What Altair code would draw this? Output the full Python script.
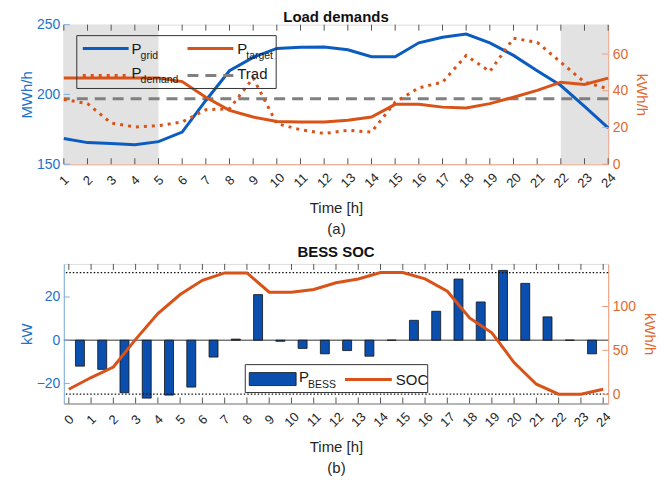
import altair as alt
import pandas as pd

FONT = "Liberation Sans"
BLUE = "#0b5cc0"
BAR_BLUE = "#0a4fae"
ORANGE = "#d95319"
BLUE_TXT = "#2072c8"
ORANGE_TXT = "#e06a30"
GRAY = "#808080"

# ---------------- data: (a) Load demands ----------------
hours_a = list(range(1, 25))
p_grid = [168.4, 165.5, 164.8, 164.0, 166.2, 173.0, 195.7, 217.0, 226.6, 233.0, 233.8, 234.0,
          232.0, 227.0, 227.0, 237.0, 241.0, 243.3, 237.0, 228.0, 217.0, 206.4, 191.4, 176.0]
p_target = [46.9, 46.9, 46.9, 46.9, 46.9, 45.0, 36.5, 29.3, 25.7, 23.3, 23.0, 23.0,
            23.9, 25.7, 32.6, 32.6, 31.1, 30.6, 33.0, 36.5, 40.2, 44.7, 43.4, 46.9]
p_demand = [35.3, 33.0, 22.4, 20.3, 21.0, 23.0, 29.7, 30.2, 47.0, 22.1, 18.8, 16.7,
            18.5, 17.5, 33.8, 41.6, 44.7, 59.2, 50.5, 68.6, 66.4, 55.5, 44.7, 41.1]
trad = [197.0]
shade_start = [1, 22]
shade_end = [5, 24]
left_ticks_a = [150, 200, 250]
right_ticks_a = [0, 20, 40, 60]

# ---------------- data: (b) BESS SOC ----------------
hours_b = list(range(0, 25))
soc = [5.7, 19.0, 31.0, 62.5, 92.0, 113.6, 129.9, 138.3, 138.3, 116.3, 116.3, 119.3, 127.0,
       131.4, 138.6, 138.6, 131.4, 117.4, 87.0, 70.0, 36.0, 11.4, 0.0, 0.0, 5.7]
bar_hours = [h + 0.5 for h in range(24)]
p_bess = [-12.0, -13.5, -24.3, -26.8, -25.4, -21.7, -7.8, 0.5, 21.1, -0.5, -3.8, -6.3,
          -4.8, -7.4, 0.0, 9.2, 13.4, 28.3, 17.7, 32.3, 26.3, 10.8, 0.0, -6.3]
soc_limits = [0.0, 138.6]
left_ticks_b = [-20, 0, 20]
right_ticks_b = [0, 50, 100]

W, H = 546, 140
dummy = pd.DataFrame({"d": [0]})


def x_enc(field, domain, title):
    ax = alt.Axis(values=list(range(domain[0], domain[1] + 1)), labelAngle=315, labelAlign="center",
                  labelBaseline="middle", labelPadding=16, ticks=False, grid=False,
                  title=title, titleFontSize=15, titleFont=FONT, titleFontWeight="normal",
                  titleColor="#262626", titleLineHeight=21, titlePadding=10,
                  labelFont=FONT, labelFontSize=13, labelColor="#262626",
                  domainColor=("#f0a080" if domain[0] == 1 else GRAY), domainWidth=1)
    return alt.X(field, type="quantitative", scale=alt.Scale(domain=domain, nice=False, zero=False), axis=ax)


def y_enc(field, domain, values, title, side):
    col = BLUE_TXT if side == "left" else ORANGE_TXT
    ax = alt.Axis(values=values, orient=side, title=title, titleColor=col, labelColor=col,
                  titleFont=FONT, titleFontSize=15, titleFontWeight="normal",
                  labelFont=FONT, labelFontSize=14, ticks=False, grid=False,
                  domainColor=("#7fb0e0" if side == "left" else "#f0a080"), domainWidth=1,
                  titlePadding=(2 if side == "left" else 6), labelPadding=4)
    return alt.Y(field, type="quantitative", scale=alt.Scale(domain=domain, nice=False, zero=False), axis=ax)


def txt(s, x, y, size, align="left"):
    return alt.Chart(dummy).mark_text(text=s, align=align, baseline="middle", fontSize=size,
                                      font=FONT, color="#1a1a1a").encode(x=alt.value(x), y=alt.value(y))


def hrule(x1, x2, y, color, width, dash=None):
    kw = dict(color=color, strokeWidth=width)
    if dash:
        kw["strokeDash"] = dash
    return alt.Chart(dummy).mark_rule(**kw).encode(x=alt.value(x1), x2=alt.value(x2), y=alt.value(y))


# ================= chart (a) =================
XA = [1, 24]
XT_A = ["Time [h]", "(a)"]
YL_A = [150, 250]
YR_A = [0, 76]

df_a = pd.DataFrame({"hour": hours_a, "P_grid": p_grid, "P_target": p_target, "P_demand": p_demand})
df_shade = pd.DataFrame({"s": shade_start, "e": shade_end})
df_trad = pd.DataFrame({"trad": trad})

shade = alt.Chart(df_shade).mark_rect(color="#e2e2e2").encode(
    x=x_enc("s", XA, XT_A), x2="e", y=alt.value(0), y2=alt.value(H))
trad_rule = alt.Chart(df_trad).mark_rule(color=GRAY, strokeWidth=3, strokeDash=[11, 7]).encode(
    y=y_enc("trad", YL_A, left_ticks_a, "MWh/h", "left"))
grid_line = alt.Chart(df_a).mark_line(color=BLUE, strokeWidth=3).encode(
    x=x_enc("hour", XA, XT_A), y=y_enc("P_grid", YL_A, left_ticks_a, "MWh/h", "left"))
lt_a = alt.Chart(pd.DataFrame({"v": left_ticks_a})).mark_rule(color="#7fb0e0").encode(
    y=y_enc("v", YL_A, left_ticks_a, "MWh/h", "left"), x=alt.value(0), x2=alt.value(6))
xt_top_a = alt.Chart(pd.DataFrame({"h": hours_a})).mark_rule(color="#555").encode(
    x=x_enc("h", XA, XT_A), y=alt.value(0), y2=alt.value(6))
xt_bot_a = alt.Chart(pd.DataFrame({"h": hours_a})).mark_rule(color="#555").encode(
    x=x_enc("h", XA, XT_A), y=alt.value(H - 6), y2=alt.value(H))
left_a = alt.layer(shade, trad_rule, grid_line, lt_a, xt_top_a, xt_bot_a)

target_line = alt.Chart(df_a).mark_line(color=ORANGE, strokeWidth=3).encode(
    x=x_enc("hour", XA, XT_A), y=y_enc("P_target", YR_A, right_ticks_a, "kWh/h", "right"))
demand_line = alt.Chart(df_a).mark_line(color=ORANGE, strokeWidth=3, strokeDash=[3, 5]).encode(
    x=x_enc("hour", XA, XT_A), y=y_enc("P_demand", YR_A, right_ticks_a, "kWh/h", "right"))
rt_a = alt.Chart(pd.DataFrame({"v": right_ticks_a})).mark_rule(color="#f0a080").encode(
    y=y_enc("v", YR_A, right_ticks_a, "kWh/h", "right"), x=alt.value(W - 6), x2=alt.value(W))
right_a = alt.layer(target_line, demand_line, rt_a)

legend_a = alt.layer(
    alt.Chart(dummy).mark_rect(fillOpacity=0, stroke="#333", strokeWidth=1).encode(
        x=alt.value(13), x2=alt.value(213), y=alt.value(11), y2=alt.value(64)),
    hrule(19, 65, 24, BLUE, 3),
    txt("P", 68, 24, 15), txt("grid", 77, 31, 10.5),
    hrule(124, 170, 24, ORANGE, 3),
    txt("P", 174, 24, 15), txt("target", 183, 31, 10.5),
    hrule(19, 65, 51, ORANGE, 3, [3, 5]),
    txt("P", 68, 48, 15), txt("demand", 77, 56, 10.5),
    hrule(124, 170, 51, GRAY, 3, [11, 7]),
    txt("Trad", 174, 50, 15),
)

chart_a = alt.layer(left_a, right_a, legend_a).resolve_scale(y="independent").properties(
    width=W, height=H,
    title=alt.TitleParams("Load demands", font=FONT, fontSize=15, fontWeight="bold", color="#111", offset=-7))

# ================= chart (b) =================
XB = [0, 24]
XT_B = ["Time [h]", "(b)"]
YL_B = [-29.3, 35.3]
YR_B = [-10.6, 148.5]

df_bars = pd.DataFrame({"hour": bar_hours, "P_BESS": p_bess})
df_soc = pd.DataFrame({"hour": hours_b, "SOC": soc})

bars = alt.Chart(df_bars).mark_bar(size=9, color=BAR_BLUE, stroke="#111", strokeWidth=0.8).encode(
    x=x_enc("hour", XB, XT_B), y=y_enc("P_BESS", YL_B, left_ticks_b, "kW", "left"), y2=alt.datum(0))
zero_rule = alt.Chart(pd.DataFrame({"z": [0]})).mark_rule(color="#777", strokeWidth=1.5).encode(
    y=y_enc("z", YL_B, left_ticks_b, "kW", "left"))
lt_b = alt.Chart(pd.DataFrame({"v": left_ticks_b})).mark_rule(color="#7fb0e0").encode(
    y=y_enc("v", YL_B, left_ticks_b, "kW", "left"), x=alt.value(0), x2=alt.value(6))
xt_top_b = alt.Chart(pd.DataFrame({"h": hours_b})).mark_rule(color="#555").encode(
    x=x_enc("h", XB, XT_B), y=alt.value(0), y2=alt.value(6))
xt_bot_b = alt.Chart(pd.DataFrame({"h": hours_b})).mark_rule(color="#555").encode(
    x=x_enc("h", XB, XT_B), y=alt.value(H - 6), y2=alt.value(H))
left_b = alt.layer(zero_rule, bars, lt_b, xt_top_b, xt_bot_b)

lim_rules = alt.Chart(pd.DataFrame({"lim": soc_limits})).mark_rule(
    color="#111", strokeWidth=1.3, strokeDash=[1.5, 2]).encode(
    y=y_enc("lim", YR_B, right_ticks_b, "kWh/h", "right"))
soc_line = alt.Chart(df_soc).mark_line(color=ORANGE, strokeWidth=3).encode(
    x=x_enc("hour", XB, XT_B), y=y_enc("SOC", YR_B, right_ticks_b, "kWh/h", "right"))
rt_b = alt.Chart(pd.DataFrame({"v": right_ticks_b})).mark_rule(color="#f0a080").encode(
    y=y_enc("v", YR_B, right_ticks_b, "kWh/h", "right"), x=alt.value(W - 6), x2=alt.value(W))
right_b = alt.layer(lim_rules, soc_line, rt_b)

legend_b = alt.layer(
    alt.Chart(dummy).mark_rect(fill="white", stroke="#333", strokeWidth=1).encode(
        x=alt.value(182), x2=alt.value(365), y=alt.value(101), y2=alt.value(129)),
    alt.Chart(dummy).mark_rect(fill=BAR_BLUE, stroke="#111", strokeWidth=0.8).encode(
        x=alt.value(186), x2=alt.value(233), y=alt.value(109), y2=alt.value(122)),
    txt("P", 236, 113, 15), txt("BESS", 245, 121, 10.5),
    hrule(282, 329, 116, ORANGE, 3),
    txt("SOC", 333, 116, 15),
)

chart_b = alt.layer(left_b, right_b, legend_b).resolve_scale(y="independent").properties(
    width=W, height=H,
    title=alt.TitleParams("BESS SOC", font=FONT, fontSize=15, fontWeight="bold", color="#111", offset=3))

chart = alt.vconcat(chart_a, chart_b, spacing=8).properties(
    padding={"left": 10, "right": 5, "top": 0, "bottom": 0}
).configure_view(stroke="#888", strokeWidth=1).configure(background="white")

chart.save("out.html", embed_options={"renderer": "svg", "actions": False})
